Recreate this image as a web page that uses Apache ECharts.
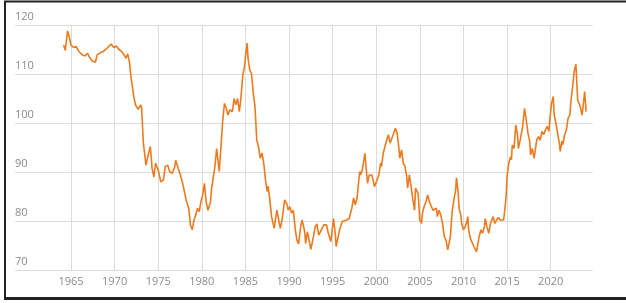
<!DOCTYPE html>
<html>
<head>
<meta charset="utf-8">
<script src="https://cdn.jsdelivr.net/npm/echarts@6/dist/echarts.min.js"></script>
<style>
  html, body { margin: 0; padding: 0; background: #fff; }
  #main { width: 626px; height: 303px; }
</style>
</head>
<body>
<div id="main"></div>
<script>
// decimal year and index level
var years = [
  1964.16, 1964.35, 1964.6, 1964.8, 1965.0, 1965.3, 1965.6, 1965.9, 1966.3, 1966.6, 1966.9,
  1967.1, 1967.4, 1967.8, 1968.0, 1968.4, 1968.7, 1969.1, 1969.6, 1969.9, 1970.2, 1970.5,
  1970.8, 1971.1, 1971.3, 1971.5, 1971.7, 1971.9, 1972.2, 1972.4, 1972.7, 1973.0, 1973.1,
  1973.3, 1973.6, 1973.8, 1974.1, 1974.3, 1974.5, 1974.7, 1975.0, 1975.3, 1975.6, 1975.8,
  1976.1, 1976.3, 1976.6, 1976.9, 1977.0, 1977.3, 1977.5, 1977.8, 1978.2, 1978.5, 1978.7,
  1978.9, 1979.1, 1979.3, 1979.5, 1979.7, 1979.9, 1980.1, 1980.3, 1980.5, 1980.7, 1981.0,
  1981.1, 1981.5, 1981.7, 1982.0, 1982.2, 1982.4, 1982.6, 1982.8, 1983.0, 1983.2, 1983.5,
  1983.7, 1983.9, 1984.1, 1984.3, 1984.5, 1984.7, 1984.9, 1985.0, 1985.2, 1985.3, 1985.5,
  1985.7, 1985.9, 1986.1, 1986.3, 1986.5, 1986.7, 1986.9, 1987.1, 1987.3, 1987.5, 1987.6,
  1987.8, 1988.0, 1988.3, 1988.6, 1988.7, 1989.0, 1989.2, 1989.5, 1989.8, 1989.9, 1990.1,
  1990.3, 1990.5, 1990.7, 1990.9, 1991.1, 1991.3, 1991.5, 1991.8, 1991.9, 1992.1, 1992.3,
  1992.5, 1992.8, 1993.0, 1993.2, 1993.4, 1993.7, 1994.0, 1994.3, 1994.5, 1994.8, 1995.1,
  1995.3, 1995.4, 1995.6, 1995.8, 1996.1, 1996.3, 1996.6, 1996.9, 1997.2, 1997.4, 1997.6,
  1997.8, 1998.1, 1998.2, 1998.4, 1998.7, 1998.9, 1999.0, 1999.2, 1999.5, 1999.8, 2000.0,
  2000.3, 2000.5, 2000.6, 2000.8, 2001.0, 2001.2, 2001.4, 2001.6, 2001.8, 2002.0, 2002.2,
  2002.4, 2002.6, 2002.7, 2002.9, 2003.1, 2003.3, 2003.5, 2003.6, 2003.8, 2004.0, 2004.2,
  2004.4, 2004.5, 2004.8, 2005.0, 2005.2, 2005.3, 2005.5, 2005.7, 2005.9, 2006.1, 2006.3,
  2006.5, 2006.6, 2006.9, 2007.0, 2007.2, 2007.4, 2007.6, 2007.8, 2008.0, 2008.2, 2008.4,
  2008.5, 2008.7, 2008.9, 2009.0, 2009.1, 2009.2, 2009.4, 2009.5, 2009.7, 2009.8, 2010.0,
  2010.2, 2010.4, 2010.5, 2010.6, 2010.8, 2011.0, 2011.2, 2011.5, 2011.6, 2011.8, 2012.0,
  2012.2, 2012.4, 2012.5, 2012.7, 2012.9, 2013.1, 2013.2, 2013.4, 2013.6, 2013.8, 2014.0,
  2014.2, 2014.4, 2014.6, 2014.7, 2014.9, 2015.0, 2015.2, 2015.4, 2015.5, 2015.6, 2015.7,
  2015.8, 2016.0, 2016.2, 2016.3, 2016.5, 2016.7, 2016.8, 2017.0, 2017.2, 2017.4, 2017.6,
  2017.7, 2017.9, 2018.1, 2018.3, 2018.4, 2018.6, 2018.8, 2019.0, 2019.2, 2019.4, 2019.6,
  2019.8, 2019.9, 2020.1, 2020.3, 2020.4, 2020.6, 2020.8, 2021.0, 2021.1, 2021.3, 2021.4,
  2021.6, 2021.8, 2022.0, 2022.2, 2022.3, 2022.5, 2022.6, 2022.7, 2022.9, 2023.0, 2023.1,
  2023.3, 2023.4, 2023.5, 2023.6, 2023.8, 2023.9, 2024.0, 2024.05
];
var values = [
  115.9, 114.8, 118.8, 117.6, 115.9, 115.4, 115.6, 114.6, 113.9, 113.7, 114.2,
  113.5, 112.7, 112.4, 113.9, 114.4, 114.6, 115.2, 116.1, 115.4, 115.7, 115.0,
  114.6, 113.9, 113.2, 114.1, 112.5, 109.1, 105.4, 103.7, 102.8, 103.7, 103.0,
  95.9, 91.4, 93.1, 95.2, 90.7, 89.0, 91.8, 90.4, 88.0, 88.4, 91.1,
  91.4, 90.1, 89.7, 91.1, 92.4, 90.7, 89.7, 87.7, 84.3, 82.6, 79.2,
  78.2, 80.2, 81.2, 82.6, 81.9, 83.9, 85.3, 87.7, 83.9, 82.2, 83.9,
  86.3, 91.1, 94.8, 90.1, 95.2, 100.6, 104.0, 103.0, 101.6, 102.7, 102.3,
  105.0, 103.7, 105.0, 102.3, 105.4, 109.8, 111.5, 113.5, 116.3, 113.2, 110.8,
  110.1, 106.1, 103.3, 96.5, 95.2, 92.8, 93.9, 91.8, 88.4, 86.0, 87.1,
  84.3, 80.9, 78.5, 82.2, 82.6, 78.5, 80.2, 84.3, 83.3, 82.2, 82.9,
  81.6, 82.2, 78.5, 76.1, 75.3, 78.5, 80.2, 77.8, 75.4, 77.8, 76.1,
  74.2, 76.8, 78.8, 79.4, 77.1, 78.2, 79.2, 79.2, 77.5, 75.8, 80.5,
  77.5, 74.8, 74.8, 78.2, 79.9, 80.2, 80.2, 80.5, 82.6, 84.7, 83.3,
  84.7, 90.1, 89.4, 90.4, 93.8, 89.7, 87.7, 89.4, 89.4, 87.0, 87.3,
  89.4, 91.8, 91.1, 93.8, 95.2, 96.5, 97.6, 95.9, 96.9, 97.9, 98.9,
  97.9, 94.8, 92.8, 94.5, 91.8, 91.1, 89.0, 86.7, 89.4, 87.0, 84.3,
  82.2, 86.7, 85.6, 80.2, 79.5, 81.6, 83.0, 83.9, 85.3, 83.9, 84.3,
  82.2, 81.9, 82.6, 80.9, 82.2, 81.2, 79.5, 76.8, 76.1, 74.1, 74.4,
  76.8, 81.9, 84.3, 85.3, 86.3, 88.8, 85.7, 82.6, 81.2, 79.5, 78.2,
  78.8, 79.9, 80.9, 78.2, 76.4, 76.8, 74.8, 73.7, 73.7, 76.8, 78.2,
  77.5, 78.8, 80.5, 78.8, 77.5, 79.5, 79.2, 80.9, 79.5, 80.2, 80.7,
  80.2, 79.9, 80.2, 81.6, 85.0, 89.1, 91.8, 93.1, 92.5, 95.5, 95.9,
  94.8, 99.6, 97.6, 94.8, 96.5, 96.2, 99.3, 103.0, 100.6, 97.9, 96.2,
  93.5, 94.8, 92.8, 92.5, 96.5, 97.2, 96.5, 98.3, 97.6, 98.6, 99.3,
  98.3, 100.7, 104.0, 105.4, 101.7, 100.0, 97.9, 95.9, 94.2, 96.3, 95.6,
  97.6, 98.6, 101.0, 101.6, 104.0, 107.1, 108.8, 110.5, 112.0, 108.1, 104.7,
  104.4, 103.3, 103.0, 101.6, 104.7, 106.4, 104.0, 102.3
];
var yTicks = [70, 80, 90, 100, 110, 120];
var xTickYears = [1965, 1970, 1975, 1980, 1985, 1990, 1995, 2000, 2005, 2010, 2015, 2020];

var chart = echarts.init(document.getElementById('main'), null, { renderer: 'canvas' });

var seriesData = years.map(function (y, i) { return [y, values[i]]; });
var labelColor = '#8a8a8a';
var gridColor = '#dcdcdc';

var option = {
    backgroundColor: '#fff',
    animation: false,
    grid: [
        // data grid, spans the full width of the horizontal gridlines
        { left: 15, right: 33.3, top: 25, bottom: 33 },
        // label grid, 1965..2020 only, same scale
        { left: 71, right: 75.3, top: 25, bottom: 33 }
    ],
    xAxis: [
        { type: 'value', gridIndex: 0, min: 1958.58, max: 2024.82, show: false },
        {
            type: 'value', gridIndex: 1,
            min: xTickYears[0], max: xTickYears[xTickYears.length - 1], interval: 5,
            axisLine: { show: false },
            axisTick: { show: false },
            splitLine: { show: true, lineStyle: { color: gridColor, width: 1 } },
            axisLabel: {
                color: labelColor, fontSize: 11, fontFamily: 'Open Sans', margin: 6,
                formatter: function (v) { return String(v); }
            }
        }
    ],
    yAxis: [
        {
            type: 'value', gridIndex: 0,
            min: yTicks[0], max: yTicks[yTicks.length - 1], interval: 10,
            axisLine: { show: false },
            axisTick: { show: false },
            splitLine: { show: true, lineStyle: { color: gridColor, width: 1 } },
            axisLabel: {
                inside: true, margin: 0, verticalAlign: 'bottom',
                padding: [0, 0, 3, 0],
                color: labelColor, fontSize: 11, fontFamily: 'Open Sans'
            }
        },
        { type: 'value', gridIndex: 1, min: 70, max: 120, show: false }
    ],
    series: [{
        type: 'line',
        xAxisIndex: 0,
        yAxisIndex: 0,
        data: seriesData,
        showSymbol: false,
        smooth: false,
        lineStyle: { color: '#ee7a1f', width: 1.6 },
        z: 5
    }],
    graphic: [
        { type: 'line', shape: { x1: 4, y1: 1.5, x2: 626, y2: 1.5 }, style: { stroke: '#222', lineWidth: 2 } },
        { type: 'line', shape: { x1: 5, y1: 1, x2: 5, y2: 300 }, style: { stroke: '#222', lineWidth: 2 } },
        { type: 'line', shape: { x1: 4, y1: 298.5, x2: 626, y2: 298.5 }, style: { stroke: '#222', lineWidth: 3 } }
    ]
};

chart.setOption(option);
</script>
</body>
</html>
